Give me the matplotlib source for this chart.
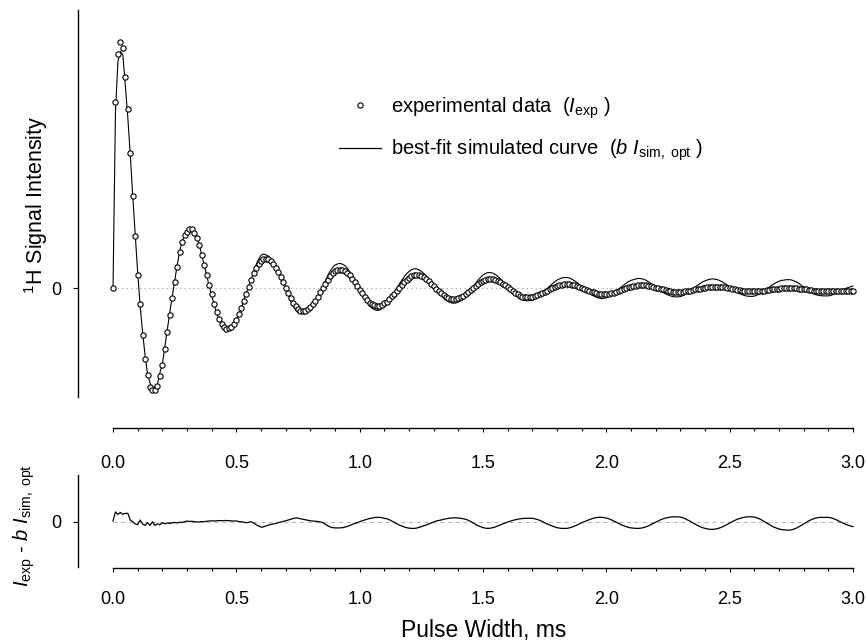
import numpy as np
import matplotlib
matplotlib.use('Agg')
import matplotlib.pyplot as plt
from matplotlib.ticker import MultipleLocator, FixedLocator
from matplotlib.lines import Line2D

plt.rcParams['font.family'] = ['Liberation Sans', 'DejaVu Sans']
plt.rcParams['mathtext.fontset'] = 'custom'
plt.rcParams['mathtext.rm'] = 'Liberation Sans'
plt.rcParams['mathtext.it'] = 'Liberation Sans:italic'
plt.rcParams['mathtext.bf'] = 'Liberation Sans:bold'

# ---------------- data ----------------
pulse_width = np.round(np.arange(301) * 0.01, 2)   # ms

exp_signal = [
    0.000, 0.756, 0.952, 1.000, 0.977, 0.858, 0.728, 0.550, 0.374, 0.213,
    0.052, -0.065, -0.190, -0.289, -0.354, -0.401, -0.415, -0.415, -0.400, -0.357,
    -0.313, -0.248, -0.178, -0.108, -0.041, 0.023, 0.087, 0.145, 0.187, 0.214,
    0.228, 0.238, 0.238, 0.224, 0.202, 0.175, 0.133, 0.093, 0.052, 0.012,
    -0.026, -0.065, -0.098, -0.126, -0.146, -0.160, -0.165, -0.164, -0.158, -0.146,
    -0.128, -0.107, -0.081, -0.053, -0.024, 0.006, 0.034, 0.060, 0.082, 0.099,
    0.111, 0.117, 0.118, 0.116, 0.109, 0.098, 0.083, 0.065, 0.045, 0.023,
    0.001, -0.021, -0.041, -0.059, -0.074, -0.085, -0.092, -0.094, -0.092, -0.087,
    -0.078, -0.066, -0.052, -0.036, -0.018, -0.001, 0.017, 0.033, 0.047, 0.059,
    0.068, 0.073, 0.075, 0.073, 0.069, 0.061, 0.051, 0.038, 0.024, 0.009,
    -0.007, -0.022, -0.036, -0.049, -0.059, -0.067, -0.071, -0.073, -0.072, -0.068,
    -0.062, -0.055, -0.045, -0.034, -0.023, -0.011, 0.002, 0.013, 0.024, 0.034,
    0.041, 0.047, 0.051, 0.052, 0.051, 0.048, 0.043, 0.036, 0.028, 0.018,
    0.008, -0.002, -0.012, -0.022, -0.030, -0.037, -0.042, -0.045, -0.046, -0.045,
    -0.042, -0.038, -0.032, -0.025, -0.017, -0.009, 0.000, 0.008, 0.016, 0.023,
    0.029, 0.033, 0.036, 0.037, 0.036, 0.034, 0.030, 0.025, 0.018, 0.011,
    0.003, -0.004, -0.012, -0.019, -0.026, -0.031, -0.035, -0.037, -0.038, -0.037,
    -0.036, -0.033, -0.030, -0.026, -0.021, -0.016, -0.011, -0.006, -0.001, 0.004,
    0.008, 0.011, 0.014, 0.015, 0.016, 0.016, 0.014, 0.012, 0.009, 0.006,
    0.002, -0.002, -0.007, -0.011, -0.015, -0.018, -0.021, -0.023, -0.025, -0.025,
    -0.025, -0.023, -0.021, -0.019, -0.016, -0.012, -0.008, -0.005, -0.001, 0.003,
    0.006, 0.008, 0.010, 0.012, 0.012, 0.012, 0.011, 0.009, 0.007, 0.005,
    0.002, -0.001, -0.003, -0.006, -0.009, -0.011, -0.013, -0.015, -0.016, -0.016,
    -0.016, -0.015, -0.014, -0.012, -0.011, -0.008, -0.006, -0.004, -0.002, 0.001,
    0.002, 0.004, 0.005, 0.006, 0.006, 0.006, 0.005, 0.004, 0.003, 0.001,
    -0.001, -0.003, -0.005, -0.007, -0.009, -0.011, -0.012, -0.013, -0.014, -0.014,
    -0.014, -0.013, -0.013, -0.012, -0.011, -0.009, -0.008, -0.006, -0.005, -0.003,
    -0.002, -0.001, -0.001, 0.000, 0.000, 0.000, -0.001, -0.001, -0.002, -0.004,
    -0.005, -0.006, -0.008, -0.009, -0.011, -0.012, -0.013, -0.013, -0.014, -0.014,
    -0.014, -0.014, -0.013, -0.013, -0.012, -0.012, -0.012, -0.012, -0.012, -0.012,
    -0.012,
]

residual = [
    0.003, 0.040, 0.030, 0.038, 0.030, 0.034, 0.034, 0.007, 0.000, -0.009,
    -0.012, 0.007, -0.009, -0.015, -0.004, -0.015, 0.000, -0.015, -0.008, -0.012,
    -0.004, -0.008, -0.005, -0.007, -0.004, -0.003, -0.005, -0.002, -0.003, 0.000,
    0.003, 0.001, 0.002, 0.000, -0.001, -0.001, 0.001, 0.000, 0.002, 0.003,
    0.004, 0.003, 0.004, 0.005, 0.004, 0.005, 0.005, 0.004, 0.004, 0.003,
    0.003, 0.001, 0.000, -0.002, -0.004, -0.002, 0.000, -0.005, -0.012, -0.017,
    -0.022, -0.021, -0.017, -0.014, -0.011, -0.009, -0.007, -0.004, -0.001, 0.001,
    0.004, 0.007, 0.010, 0.013, 0.015, 0.015, 0.012, 0.010, 0.008, 0.006,
    0.004, 0.003, 0.002, 0.001, -0.001, -0.003, -0.010, -0.016, -0.021, -0.024,
    -0.025, -0.025, -0.025, -0.024, -0.022, -0.019, -0.015, -0.011, -0.007, -0.004,
    0.000, 0.004, 0.007, 0.010, 0.013, 0.015, 0.017, 0.018, 0.018, 0.016,
    0.014, 0.012, 0.008, 0.003, -0.002, -0.008, -0.013, -0.017, -0.021, -0.024,
    -0.026, -0.027, -0.027, -0.026, -0.023, -0.020, -0.016, -0.013, -0.009, -0.005,
    -0.001, 0.003, 0.005, 0.007, 0.010, 0.012, 0.014, 0.015, 0.016, 0.016,
    0.015, 0.014, 0.012, 0.010, 0.006, 0.001, -0.005, -0.011, -0.016, -0.020,
    -0.024, -0.026, -0.027, -0.026, -0.024, -0.021, -0.017, -0.013, -0.009, -0.005,
    -0.001, 0.002, 0.005, 0.008, 0.010, 0.012, 0.013, 0.014, 0.014, 0.014,
    0.014, 0.012, 0.009, 0.006, 0.001, -0.004, -0.009, -0.013, -0.017, -0.021,
    -0.024, -0.026, -0.027, -0.027, -0.027, -0.025, -0.022, -0.018, -0.014, -0.009,
    -0.004, 0.000, 0.004, 0.008, 0.012, 0.015, 0.017, 0.018, 0.018, 0.017,
    0.015, 0.012, 0.008, 0.003, -0.002, -0.007, -0.012, -0.016, -0.020, -0.023,
    -0.025, -0.026, -0.027, -0.027, -0.026, -0.024, -0.021, -0.017, -0.012, -0.007,
    -0.002, 0.003, 0.008, 0.012, 0.015, 0.017, 0.019, 0.020, 0.020, 0.020,
    0.019, 0.016, 0.012, 0.007, 0.002, -0.004, -0.010, -0.015, -0.020, -0.024,
    -0.027, -0.029, -0.031, -0.031, -0.030, -0.028, -0.025, -0.021, -0.016, -0.011,
    -0.005, 0.000, 0.005, 0.010, 0.013, 0.016, 0.018, 0.020, 0.020, 0.020,
    0.019, 0.016, 0.012, 0.007, 0.001, -0.005, -0.011, -0.017, -0.022, -0.026,
    -0.029, -0.032, -0.033, -0.034, -0.034, -0.033, -0.030, -0.026, -0.021, -0.015,
    -0.009, -0.003, 0.003, 0.008, 0.012, 0.015, 0.017, 0.018, 0.018, 0.018,
    0.018, 0.016, 0.013, 0.009, 0.004, -0.001, -0.006, -0.010, -0.014, -0.017,
    -0.020,
]

# best-fit simulated curve b*I_sim,opt = I_exp - residual
sim_signal = np.array(exp_signal) - np.array(residual)

x_ticks = [0.0, 0.5, 1.0, 1.5, 2.0, 2.5, 3.0]
x_tick_labels = ['0.0', '0.5', '1.0', '1.5', '2.0', '2.5', '3.0']
legend_labels = [r'experimental data  ($I_{\rm exp}$ )',
                 r'best-fit simulated curve  ($b\ I_{\rm sim,\ opt}$ )']

# ---------------- layout ----------------
W, H = 868, 644
fig = plt.figure(figsize=(W / 100, H / 100), dpi=100)


def fx(px):
    return px / W


def fy(py):
    return 1 - py / H


PT = 0.72  # points per pixel at 100 dpi

ax1 = fig.add_axes([fx(113), fy(428), (853 - 113) / W, (428 - 10) / H])
ax2 = fig.add_axes([fx(113), fy(568), (853 - 113) / W, (568 - 475) / H])

for ax in (ax1, ax2):
    ax.set_xlim(0, 3)
    ax.spines['top'].set_visible(False)
    ax.spines['right'].set_visible(False)
    ax.spines['left'].set_position(('outward', 35 * PT))
    ax.spines['left'].set_linewidth(1.0)
    ax.spines['bottom'].set_linewidth(1.0)
    ax.xaxis.set_major_locator(FixedLocator(x_ticks))
    ax.xaxis.set_minor_locator(MultipleLocator(0.1))
    ax.set_xticklabels(x_tick_labels)
    ax.tick_params(axis='x', which='major', direction='out', length=4 * PT,
                   width=0.8, labelsize=13)
    ax.tick_params(axis='x', which='minor', direction='out', length=3 * PT,
                   width=0.8)
    ax.tick_params(axis='y', which='major', direction='out', length=5 * PT,
                   width=0.8, labelsize=13, pad=12 * PT)
    ax.set_yticks([0])
    ax.set_yticklabels(['0'])

ax1.tick_params(axis='x', which='major', pad=23 * PT)
ax2.tick_params(axis='x', which='major', pad=19 * PT)

# upper panel
ax1.set_ylim(-0.569, 1.130)
ax1.spines['left'].set_bounds(-0.443, 1.130)
ax1.axhline(0, color='#9a9a9a', lw=0.8, ls=(0, (1, 3)), zorder=1)
ax1.plot(pulse_width, sim_signal, color='black', lw=0.8, zorder=2, clip_on=False)
ax1.plot(pulse_width, exp_signal, ls='none', marker='o', ms=3.8, mfc='white',
         mec='black', mew=0.8, zorder=3, clip_on=False)

handles = [Line2D([], [], ls='none', marker='o', ms=3.8, mfc='white', mec='black', mew=0.8),
           Line2D([], [], color='black', lw=0.9)]
ax1.legend(handles, legend_labels, loc='upper left',
           bbox_to_anchor=(fx(339), fy(95)), bbox_transform=fig.transFigure,
           frameon=False, fontsize=14.5, handlelength=2.1, handletextpad=0.5,
           labelspacing=0.85, borderpad=0, borderaxespad=0)

# lower panel
ax2.set_ylim(-0.188, 0.190)
ax2.spines['left'].set_bounds(-0.184, 0.190)
ax2.axhline(0, color='#b0b0b0', lw=0.7, ls=(0, (4, 4)), zorder=1)
ax2.plot(pulse_width, residual, color='black', lw=0.9, zorder=2, clip_on=False)

# axis titles
fig.text(fx(36), fy(205), r'$^{1}$H Signal Intensity', rotation=90,
         ha='center', va='center', fontsize=15.5)
fig.text(fx(24), fy(526), r'$I_{\rm exp}$ - $b\ I_{\rm sim,\ opt}$', rotation=90,
         ha='center', va='center', fontsize=14.5)
fig.text(fx(484), fy(631), 'Pulse Width, ms', ha='center', va='center',
         fontsize=16.5)

fig.savefig('out.png', dpi=100)
